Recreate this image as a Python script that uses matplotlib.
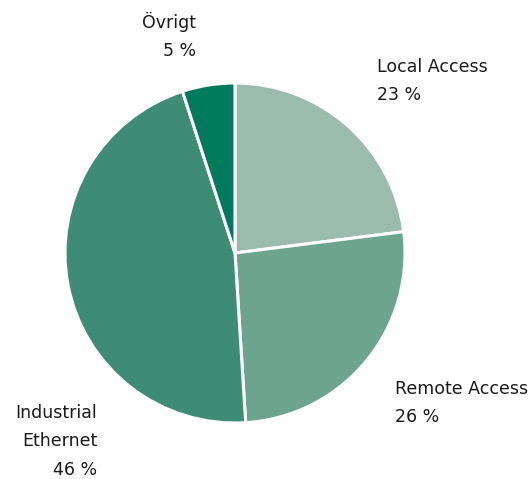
import matplotlib.pyplot as plt

# Share of segment (clockwise from 12 o'clock)
segments = ["Local Access", "Remote Access", "Industrial Ethernet", "Övrigt"]
shares = [23, 26, 46, 5]
colors = ["#9bbbae", "#6ca48f", "#3f8c74", "#007a5c"]

# label lines per segment
label_lines = [["Local Access"], ["Remote Access"], ["Industrial", "Ethernet"], ["Övrigt"]]

W, H = 528, 479
cx, cy, r = 235, 253, 170

fig = plt.figure(figsize=(W / 100, H / 100), dpi=100)
ax = fig.add_axes([(cx - r) / W, (H - cy - r) / H, 2 * r / W, 2 * r / H])

ax.pie(shares, colors=colors, startangle=90, counterclock=False, radius=1,
       wedgeprops=dict(edgecolor="white", linewidth=2.2))
ax.set_xlim(-1, 1)
ax.set_ylim(-1, 1)
ax.set_aspect("auto")
ax.axis("off")


def px(x, y):
    return (x - cx) / r, (cy - y) / r


# anchor (pixel x, first line pixel y, alignment)
anchors = [(377, 67, "left"), (395, 389, "left"), (97, 413, "right"), (196, 22, "right")]
step = 28.5

for lines, share, (x, y, ha) in zip(label_lines, shares, anchors):
    for i, t in enumerate(lines + [f"{share} %"]):
        tx, ty = px(x, y + i * step)
        ax.text(tx, ty, t, ha=ha, va="center", fontsize=12.5, color="#1a1a1a",
                family="DejaVu Sans", clip_on=False)

fig.savefig("out.png", dpi=100)
